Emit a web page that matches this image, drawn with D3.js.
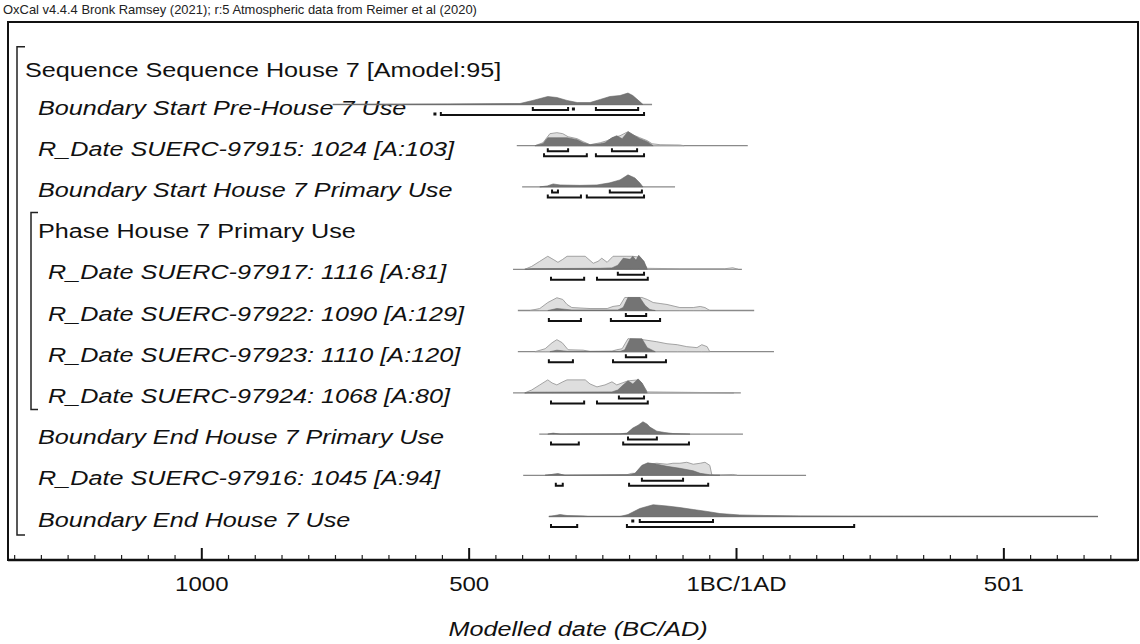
<!DOCTYPE html>
<html>
<head>
<meta charset="utf-8">
<script src="https://cdn.jsdelivr.net/npm/d3@7"></script>
<style>
  body { margin: 0; background: #fff; }
  svg { display: block; font-family: "Liberation Sans", Arial, sans-serif; }
</style>
</head>
<body>
<svg id="chart" width="1140" height="644"></svg>
<script>
// ---- text ----
const headerText = "OxCal v4.4.4 Bronk Ramsey (2021); r:5 Atmospheric data from Reimer et al (2020)";
const axisTitle = "Modelled date (BC/AD)";
const tickValues = [-1000, -500, 0, 500];
const tickLabels = ["1000", "500", "1BC/1AD", "501"];

// ---- model rows (years: negative = BC, 0 = 1BC/1AD boundary) ----
const rowLabels = [
  "Sequence Sequence House 7 [Amodel:95]",
  "Boundary Start Pre-House 7 Use",
  "R_Date SUERC-97915: 1024 [A:103]",
  "Boundary Start House 7 Primary Use",
  "Phase House 7 Primary Use",
  "R_Date SUERC-97917: 1116 [A:81]",
  "R_Date SUERC-97922: 1090 [A:129]",
  "R_Date SUERC-97923: 1110 [A:120]",
  "R_Date SUERC-97924: 1068 [A:80]",
  "Boundary End House 7 Primary Use",
  "R_Date SUERC-97916: 1045 [A:94]",
  "Boundary End House 7 Use"
];
const rowKinds = ["group", "item", "item", "item", "group", "item", "item", "item", "item", "item", "item", "item"];
const rowDepth = [0, 1, 1, 1, 1, 2, 2, 2, 2, 1, 1, 1];

// full span of each distribution
const spans = [
  null, [-754, -157], [-410, 22], [-400, -114], null,
  [-417, 11], [-408, 34], [-408, 71], [-417, 9],
  [-368, 13], [-398, 131], [-350, 677]
];

// unmodelled (prior) likelihoods, relative probability
const priors = [
  null,
  null,
  [[-376,0],[-361,0.21],[-348,0.86],[-335,0.93],[-324,0.86],[-314,0.64],[-297,0.5],[-286,0.29],[-273,0.07],[-254,0.21],[-241,0.36],[-230,0.57],[-217,0.71],[-202,1],[-189,0.71],[-180,0.57],[-166,0.36],[-157,0.14],[-142,0.07],[-105,0.05],[-97,0]],
  null,
  null,
  [[-395,0],[-382,0.21],[-367,0.57],[-352,0.93],[-342,0.71],[-333,0.5],[-324,0.71],[-316,0.93],[-282,0.93],[-267,0.43],[-258,0.57],[-251,0.79],[-241,0.5],[-230,0.93],[-204,0.93],[-193,0.93],[-180,0.86],[-166,0.07],[-105,0.04],[-21,0.04],[-6,0.11],[4,0]],
  [[-385,0],[-367,0.14],[-352,0.57],[-335,0.91],[-324,0.79],[-316,0.43],[-307,0.21],[-273,0.14],[-241,0.14],[-230,0.29],[-217,0.36],[-208,0.93],[-176,0.93],[-166,0.79],[-155,0.57],[-142,0.5],[-129,0.43],[-105,0.21],[-80,0.21],[-67,0.29],[-58,0.21],[-49,0]],
  [[-376,0],[-357,0.21],[-344,0.64],[-335,0.86],[-325,0.64],[-314,0.14],[-286,0.11],[-273,0.02],[-232,0.04],[-223,0.14],[-213,0.21],[-202,0.93],[-174,0.86],[-148,0.71],[-129,0.57],[-110,0.5],[-92,0.36],[-73,0.29],[-64,0.5],[-54,0.36],[-49,0]],
  [[-395,0],[-382,0.21],[-367,0.57],[-352,0.93],[-344,0.71],[-335,0.57],[-324,0.79],[-316,0.93],[-282,0.93],[-273,0.64],[-260,0.43],[-245,0.57],[-232,0.79],[-223,0.57],[-213,0.71],[-202,0.86],[-183,0.93],[-176,0.71],[-166,0.07],[-67,0.03],[-4,0]],
  null,
  [[-357,0],[-333,0.11],[-320,0],[-204,0.04],[-195,0.14],[-185,0.14],[-166,0.79],[-148,0.86],[-129,0.79],[-118,0.86],[-105,0.86],[-92,0.93],[-80,0.79],[-67,0.86],[-58,0.93],[-49,0.71],[-45,0],[-6,0.06],[2,0]],
  null
];

// modelled (posterior) distributions, relative probability
const posteriors = [
  null,
  [[-754,0],[-540,0.04],[-404,0.07],[-380,0.29],[-352,0.57],[-335,0.5],[-316,0.29],[-297,0.14],[-273,0.14],[-254,0.36],[-236,0.57],[-217,0.64],[-202,0.82],[-193,0.64],[-180,0.21],[-174,0]],
  [[-376,0],[-361,0.14],[-352,0.57],[-335,0.57],[-316,0.57],[-297,0.43],[-286,0.21],[-273,0.07],[-254,0.14],[-245,0.21],[-232,0.57],[-223,0.71],[-213,0.5],[-202,1],[-193,0.79],[-180,0.5],[-166,0.29],[-155,0]],
  [[-367,0],[-353,0.07],[-342,0.21],[-329,0.14],[-292,0.11],[-260,0.14],[-236,0.29],[-217,0.5],[-202,0.86],[-189,0.64],[-180,0.29],[-174,0]],
  null,
  [[-395,0],[-382,0.05],[-254,0.07],[-232,0.1],[-221,0.29],[-211,0.79],[-198,0.71],[-193,0.93],[-187,0.64],[-182,1],[-172,0.57],[-166,0]],
  [[-352,0],[-335,0.14],[-307,0.04],[-221,0.04],[-211,0.21],[-202,0.93],[-180,0.93],[-170,0.36],[-161,0.07],[-151,0]],
  [[-348,0],[-335,0.11],[-314,0.02],[-217,0.02],[-208,0.14],[-198,0.93],[-176,0.93],[-166,0.29],[-151,0]],
  [[-395,0],[-382,0.05],[-232,0.07],[-221,0.21],[-211,0.57],[-202,0.86],[-193,0.64],[-183,1],[-176,0.71],[-166,0]],
  [[-352,0],[-342,0.07],[-329,0],[-217,0.02],[-204,0.07],[-193,0.43],[-183,0.64],[-174,0.88],[-166,0.71],[-161,0.5],[-148,0.21],[-133,0.11],[-118,0.04],[-86,0]],
  [[-357,0],[-333,0.11],[-320,0],[-198,0.04],[-189,0.14],[-176,0.71],[-165,0.89],[-148,0.79],[-129,0.64],[-105,0.5],[-80,0.32],[-67,0.14],[-49,0.04],[-30,0]],
  [[-350,0],[-339,0.07],[-329,0.14],[-316,0.07],[-286,0.04],[-277,0],[-217,0],[-202,0.14],[-180,0.57],[-155,0.84],[-129,0.75],[-105,0.64],[-80,0.5],[-54,0.36],[-30,0.21],[7,0.11],[58,0.07],[120,0.04],[213,0.02],[677,0]]
];

// highest posterior density ranges
const hpd68 = [
  null,
  [[-380,-314],[-305,-303],[-262,-183]],
  [[-352,-314],[-232,-185]],
  [[-344,-333],[-236,-176]],
  null,
  [[-221,-172]],
  [[-206,-168]],
  [[-206,-168]],
  [[-219,-172]],
  [[-202,-148]],
  [[-176,-99]],
  [[-194,-191],[-180,-43]]
];
const hpd95 = [
  null,
  [[-564,-562],[-552,-172]],
  [[-359,-279],[-262,-172]],
  [[-352,-290],[-279,-172]],
  null,
  [[-346,-284],[-260,-165]],
  [[-350,-290],[-234,-142]],
  [[-350,-305],[-230,-131]],
  [[-346,-284],[-260,-165]],
  [[-346,-294],[-211,-88]],
  [[-337,-324],[-200,-52]],
  [[-346,-297],[-204,221]]
];

// ---- layout ----
const W = 1140, H = 644;
const frame = { left: 8, top: 22, right: 1138, bottom: 560 };
const stretch = 1.2;          // horizontal stretch of the lettering
const peakHeight = 14;        // pixel height of relative probability 1

const svg = d3.select("#chart");

const x = d3.scaleLinear().domain([-1361.5, 751.8]).range([frame.left, frame.right]);
const yRow = d3.scaleLinear().domain([1, 11]).range([107, 519]);
const rowCenter = i => i === 0 ? yRow(0) + 4 : yRow(i);
const indentX = [25, 38, 48];

function stretchedText(parent, tx, ty, str, opts) {
  const g = parent.append("g").attr("transform", `translate(${tx},${ty})`);
  const t = g.append("text")
    .attr("transform", `scale(${opts.sx || stretch},1)`)
    .attr("font-size", opts.size)
    .attr("fill", opts.fill || "#111")
    .attr("text-anchor", opts.anchor || "start")
    .text(str);
  if (opts.italic) t.attr("font-style", "italic");
  return t;
}

// header credit line
stretchedText(svg, 3, 14, headerText, { size: 12, sx: 1.08, fill: "#222" });

// plot frame
svg.append("rect")
  .attr("x", frame.left).attr("y", frame.top)
  .attr("width", frame.right - frame.left).attr("height", frame.bottom - frame.top)
  .attr("fill", "none").attr("stroke", "#111").attr("stroke-width", 2);

// grouping brackets (sequence and phase)
function bracket(bx, top, bottom, tick) {
  svg.append("path")
    .attr("d", `M${bx + tick},${top}H${bx}V${bottom}H${bx + tick}`)
    .attr("fill", "none").attr("stroke", "#222").attr("stroke-width", 1.5);
}
bracket(17, rowCenter(0) - 23, rowCenter(11) + 16, 8);
bracket(31, rowCenter(4) - 18, rowCenter(8) + 14, 7);

// row labels
rowLabels.forEach((lab, i) => {
  stretchedText(svg, indentX[rowDepth[i]], rowCenter(i) + 7.5, lab, {
    size: 21, italic: rowKinds[i] === "item"
  });
});

// distributions
const layer = svg.append("g");
rowLabels.forEach((lab, i) => {
  if (!spans[i]) return;
  const base = rowCenter(i) - 2.5;
  const g = layer.append("g");
  const area = d3.area()
    .x(d => x(d[0]))
    .y0(base)
    .y1(d => base - d[1] * peakHeight);

  g.append("line")
    .attr("x1", x(spans[i][0])).attr("x2", x(spans[i][1]))
    .attr("y1", base).attr("y2", base)
    .attr("stroke", "#8a8a8a").attr("stroke-width", 1.3);

  if (priors[i]) {
    g.append("path").datum(priors[i]).attr("d", area)
      .attr("fill", "#dedede").attr("stroke", "#9a9a9a").attr("stroke-width", 0.9);
  }
  if (posteriors[i]) {
    g.append("path").datum(posteriors[i]).attr("d", area)
      .attr("fill", "#747474").attr("stroke", "#666").attr("stroke-width", 0.6);
  }

  const drawRanges = (ranges, dy) => {
    ranges.forEach(r => {
      const x0 = x(r[0]), x1 = x(r[1]);
      if (x1 - x0 < 3) {
        g.append("rect").attr("x", x0 - 1).attr("y", base + dy - 2.5)
          .attr("width", Math.max(3, x1 - x0 + 1)).attr("height", 3).attr("fill", "#111");
      } else {
        g.append("path")
          .attr("d", `M${x0},${base + dy - 3}V${base + dy}H${x1}V${base + dy - 3}`)
          .attr("fill", "none").attr("stroke", "#111").attr("stroke-width", 2);
      }
    });
  };
  drawRanges(hpd68[i], 5.5);
  drawRanges(hpd95[i], 10.5);
});

// time axis: minor ticks every 50 years, major every 500
const axisG = svg.append("g").attr("transform", `translate(0,${frame.bottom})`);
const minorTicks = d3.range(-1350, 751, 50).filter(v => !tickValues.includes(v));
axisG.append("g")
  .call(d3.axisBottom(x).tickValues(minorTicks).tickSize(-5).tickFormat(""))
  .call(s => s.select(".domain").remove())
  .call(s => s.selectAll("line").attr("stroke", "#222").attr("stroke-width", 1.2));
axisG.append("g")
  .call(d3.axisBottom(x).tickValues(tickValues).tickSize(-12).tickPadding(17)
    .tickFormat((d, k) => tickLabels[k]))
  .call(s => s.select(".domain").remove())
  .call(s => s.selectAll("line").attr("stroke", "#111").attr("stroke-width", 2))
  .call(s => s.selectAll("text")
    .attr("font-size", 20).attr("fill", "#111")
    .attr("font-family", "Liberation Sans, Arial, sans-serif")
    .attr("transform", `scale(${stretch},1)`));
axisG.append("line")
  .attr("x1", frame.left).attr("x2", frame.right)
  .attr("stroke", "#111").attr("stroke-width", 2.5);

// axis title
stretchedText(svg, 578, 636, axisTitle, { size: 21, italic: true, anchor: "middle" });
</script>
</body>
</html>
